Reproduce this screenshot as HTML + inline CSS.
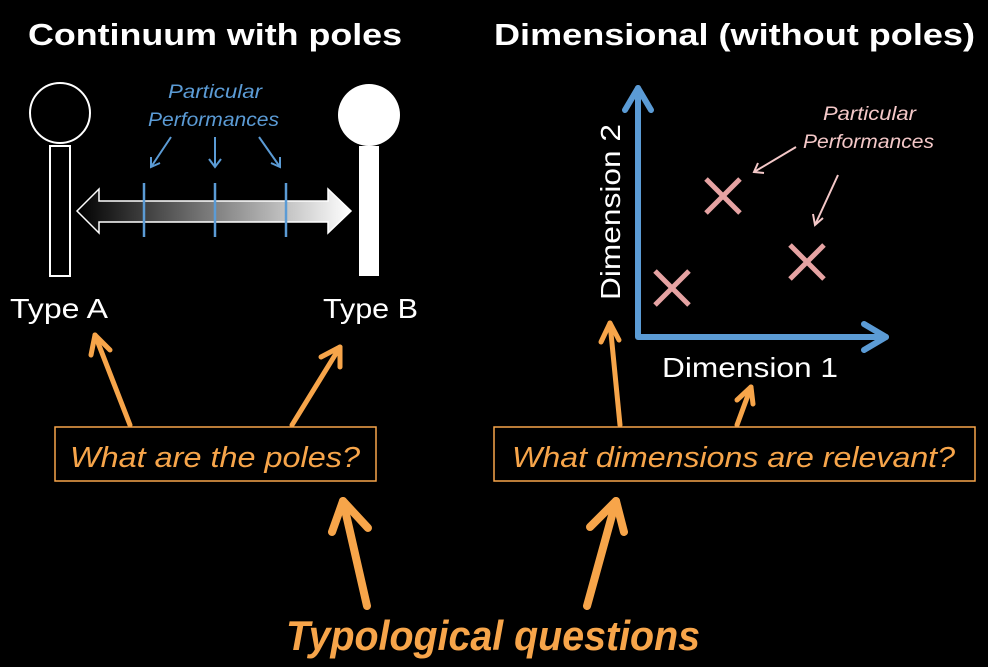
<!DOCTYPE html>
<html><head><meta charset="utf-8"><style>
html,body{margin:0;padding:0;background:#000;}
svg{display:block;}
text{font-family:"Liberation Sans",sans-serif;}
</style></head><body>
<svg width="988" height="667" viewBox="0 0 988 667" xmlns="http://www.w3.org/2000/svg">
<defs>
<linearGradient id="g" x1="0" x2="1" y1="0" y2="0">
<stop offset="0" stop-color="#000"/><stop offset="1" stop-color="#fff"/>
</linearGradient>
</defs>
<rect width="988" height="667" fill="#000"/>
<text x="28" y="45" fill="#fff" font-size="31" font-weight="bold" textLength="374" lengthAdjust="spacingAndGlyphs">Continuum with poles</text>
<text x="494" y="45" fill="#fff" font-size="31" font-weight="bold" textLength="481" lengthAdjust="spacingAndGlyphs">Dimensional (without poles)</text>

<circle cx="60" cy="113" r="30" fill="none" stroke="#fff" stroke-width="2"/>
<rect x="50" y="146" width="20" height="130" fill="none" stroke="#fff" stroke-width="2"/>
<circle cx="369" cy="115" r="31" fill="#fff"/>
<rect x="359" y="146" width="20" height="130" fill="#fff"/>

<polygon points="77,211 99,189 99,201 328,201 328,189 351,211 328,233 328,222 99,222 99,233" fill="url(#g)" stroke="#fff" stroke-width="1.5"/>
<g stroke="#5b9bd5" stroke-width="2.5">
<line x1="144" y1="183" x2="144" y2="237"/>
<line x1="215" y1="183" x2="215" y2="237"/>
<line x1="286" y1="183" x2="286" y2="237"/>
</g>
<text x="168" y="98" fill="#5b9bd5" font-size="19" font-style="italic" textLength="94" lengthAdjust="spacingAndGlyphs">Particular</text>
<text x="148" y="126" fill="#5b9bd5" font-size="19" font-style="italic" textLength="131" lengthAdjust="spacingAndGlyphs">Performances</text>
<g stroke="#5b9bd5" stroke-width="2" fill="none">
<line x1="171" y1="137" x2="151" y2="167"/><polyline points="151,157 151,167 160,163"/>
<line x1="215" y1="137" x2="215" y2="167"/><polyline points="209,159 215,167 221,159"/>
<line x1="259" y1="137" x2="280" y2="167"/><polyline points="271,163 280,167 280,157"/>
</g>
<text x="10" y="318" fill="#fff" font-size="28" textLength="98" lengthAdjust="spacingAndGlyphs">Type A</text>
<text x="323" y="318" fill="#fff" font-size="28" textLength="95" lengthAdjust="spacingAndGlyphs">Type B</text>

<g stroke="#5b9bd5" stroke-width="6" fill="none" stroke-linecap="round" stroke-linejoin="round">
<polyline points="638,88 638,337 886,337"/>
<polyline points="625,110 638,88 651,110"/>
<polyline points="864,324 886,337 864,350"/>
</g>
<g stroke="#e6a3a3" stroke-width="5">
<line x1="706" y1="179" x2="740" y2="213"/><line x1="740" y1="179" x2="706" y2="213"/>
<line x1="790" y1="245" x2="824" y2="279"/><line x1="824" y1="245" x2="790" y2="279"/>
<line x1="655" y1="271" x2="689" y2="305"/><line x1="689" y1="271" x2="655" y2="305"/>
</g>
<text x="823" y="120" fill="#f4c8c8" font-size="19" font-style="italic" textLength="93" lengthAdjust="spacingAndGlyphs">Particular</text>
<text x="803" y="148" fill="#f4c8c8" font-size="19" font-style="italic" textLength="131" lengthAdjust="spacingAndGlyphs">Performances</text>
<g stroke="#f4c8c8" stroke-width="2" fill="none">
<line x1="796" y1="147" x2="754" y2="172"/><polyline points="758,163 754,172 764,173"/>
<line x1="838" y1="175" x2="815" y2="225"/><polyline points="813,214 815,225 823,218"/>
</g>
<text transform="translate(620,300) rotate(-90)" fill="#fff" font-size="28" textLength="176" lengthAdjust="spacingAndGlyphs">Dimension 2</text>
<text x="662" y="377" fill="#fff" font-size="28" textLength="176" lengthAdjust="spacingAndGlyphs">Dimension 1</text>

<rect x="55" y="427" width="321" height="54" fill="none" stroke="#f7a54a" stroke-width="1.5"/>
<text x="70" y="467" fill="#f7a54a" font-size="29" font-style="italic" textLength="290" lengthAdjust="spacingAndGlyphs">What are the poles?</text>
<rect x="494" y="427" width="481" height="54" fill="none" stroke="#f7a54a" stroke-width="1.5"/>
<text x="512" y="467" fill="#f7a54a" font-size="29" font-style="italic" textLength="443" lengthAdjust="spacingAndGlyphs">What dimensions are relevant?</text>

<g stroke="#f7a54a" stroke-width="5" fill="none" stroke-linecap="round" stroke-linejoin="round">
<line x1="130" y1="425" x2="95" y2="335"/><polyline points="91,355 95,335 110,350"/>
<line x1="292" y1="425" x2="340" y2="347"/><polyline points="321,357 340,347 340,367"/>
<line x1="620" y1="425" x2="610" y2="323"/><polyline points="601,342 610,323 619,340"/>
<line x1="737" y1="425" x2="751" y2="387"/><polyline points="737,400 751,387 753,404"/>
</g>
<g stroke="#f7a54a" stroke-width="8" fill="none" stroke-linecap="round" stroke-linejoin="round">
<line x1="367" y1="606" x2="343" y2="501"/><polyline points="332,532 343,501 368,528"/>
<line x1="587" y1="606" x2="616" y2="501"/><polyline points="590,527 616,501 624,532"/>
</g>
<text x="286" y="650" fill="#f7a54a" font-size="42" font-weight="bold" font-style="italic" textLength="414" lengthAdjust="spacingAndGlyphs">Typological questions</text>
</svg>
</body></html>
